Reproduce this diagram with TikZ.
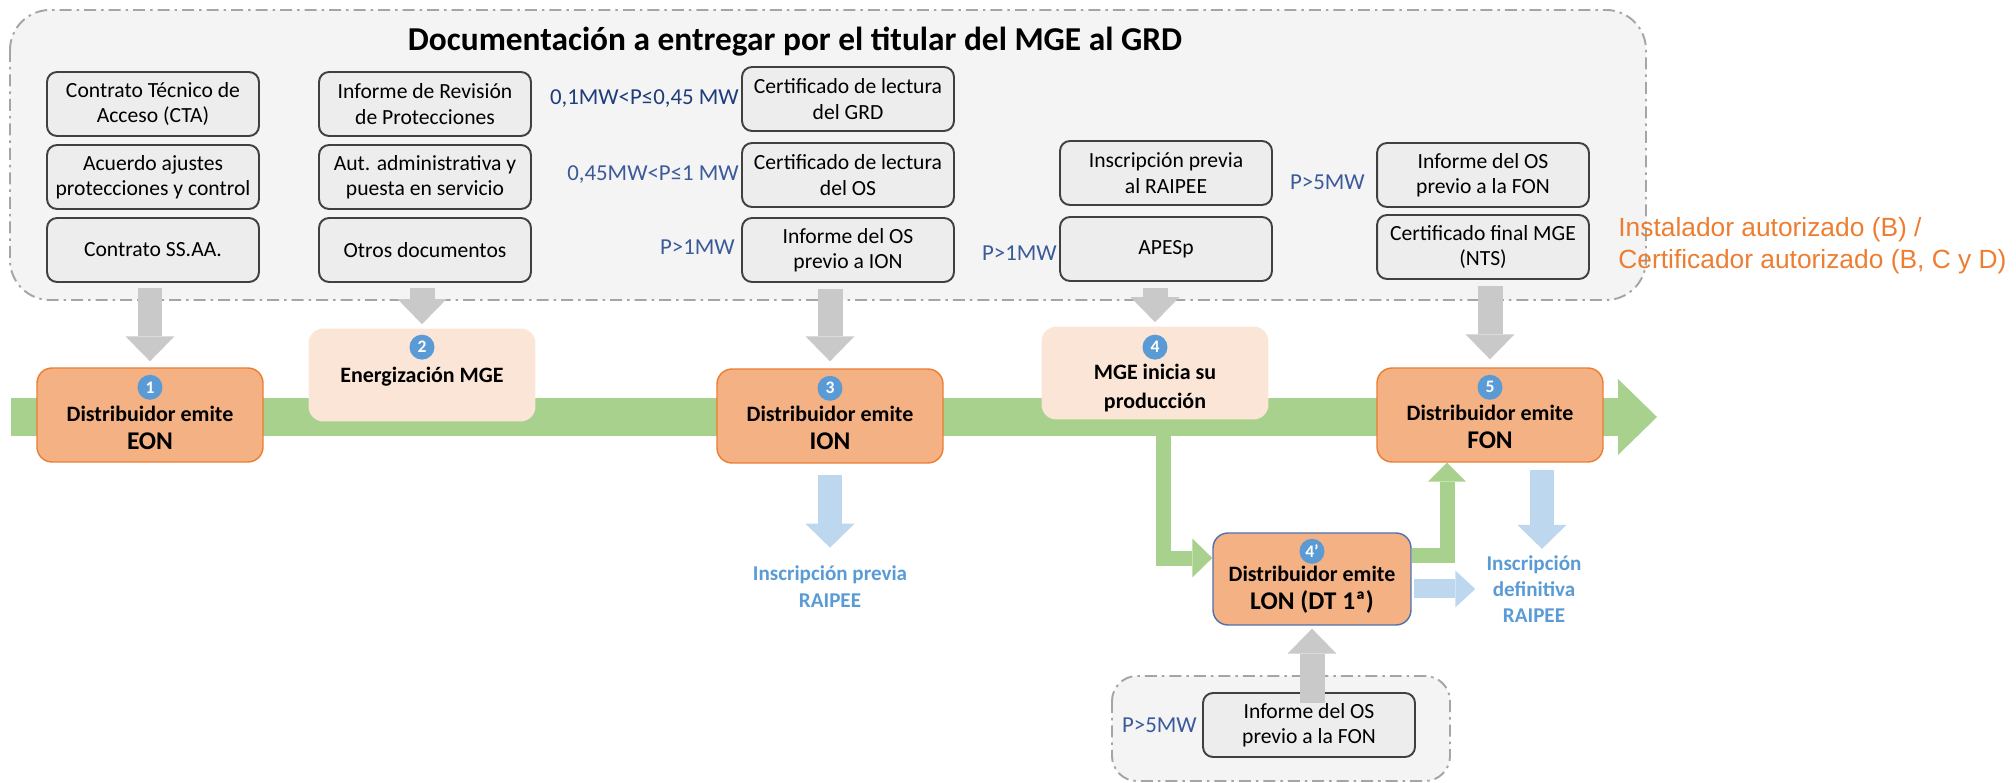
\documentclass[tikz,border=0pt]{standalone}
\usepackage{fontspec}
\setmainfont{Carlito}
\newfontfamily\instfont{Liberation Sans}
\usetikzlibrary{arrows.meta,positioning}

\definecolor{bandgreen}{HTML}{A9D18E}
\definecolor{arrgray}{HTML}{C9C9C9}
\definecolor{arrblue}{HTML}{BDD7EE}
\definecolor{stepfill}{HTML}{F4B183}
\definecolor{stepline}{HTML}{ED7D31}
\definecolor{lonline}{HTML}{4F6FAF}
\definecolor{peach}{HTML}{FBE5D6}
\definecolor{numblue}{HTML}{5B9BD5}
\definecolor{docfill}{HTML}{EDEDED}
\definecolor{docline}{HTML}{404040}
\definecolor{panelfill}{HTML}{F4F4F4}
\definecolor{panelline}{HTML}{A5A5A5}
\definecolor{pdark}{HTML}{1F3D7A}
\definecolor{plight}{HTML}{3B5A9A}
\definecolor{infoblue}{HTML}{5B9BD5}
\definecolor{instorange}{HTML}{ED7D31}

\tikzset{
  panel/.style={draw=panelline, fill=panelfill, line width=1.1pt,
    dash pattern=on 0.24cm off 0.1cm on 0.05cm off 0.1cm},
  docbox/.style={draw=docline, fill=docfill, rounded corners=0.2cm, line width=1.1pt,
    minimum width=4.24cm, minimum height=1.28cm, align=center, inner sep=1pt,
    font=\fontsize{12.3}{14.5}\selectfont},
  plabel/.style={text=plight, inner sep=0pt, font=\fontsize{13}{15}\selectfont},
  stepbox/.style={draw=stepline, fill=stepfill, rounded corners=0.3cm, line width=0.8pt,
    minimum width=4.52cm, minimum height=1.88cm},
  peachbox/.style={fill=peach, rounded corners=0.3cm, minimum width=4.54cm, minimum height=1.86cm},
  steptext/.style={align=center, inner sep=0pt, font=\bfseries\fontsize{12.5}{16}\selectfont},
  numdot/.style={circle, fill=numblue, text=white, inner sep=0pt, minimum size=0.5cm,
    font=\bfseries\fontsize{10}{12}\selectfont},
  bluetext/.style={align=center, inner sep=0pt, text=infoblue,
    font=\bfseries\fontsize{12}{15}\selectfont},
  grayarr/.style={draw=arrgray, line width=0.5cm,
    -{Triangle[width=0.98cm,length=0.5cm,line width=0pt]}},
  bluearr/.style={draw=arrblue, line width=0.48cm,
    -{Triangle[width=0.98cm,length=0.48cm,line width=0pt]}},
  greenarr/.style={draw=bandgreen, line width=0.3cm, line join=miter,
    -{Triangle[width=0.78cm,length=0.4cm,line width=0pt]}}
}

\begin{document}
\begin{tikzpicture}[x=0.02cm,y=-0.02cm]
    \useasboundingbox (0,0) rectangle (2016,783);

    % documentation panel
    \draw[panel, rounded corners=0.8cm] (10,10) rectangle (1646,300);
    \node[font=\bfseries\fontsize{19}{22}\selectfont] (title) at (795,42) {Documentación a entregar por el titular del MGE al GRD};

    \node[docbox] (cta) at (153,104) {Contrato Técnico de\\Acceso (CTA)};
    \node[docbox] (ajustes) at (153,177) {Acuerdo ajustes\\protecciones y control};
    \node[docbox] (ssaa) at (153,250) {Contrato SS.AA.};
    \node[docbox] (revprot) at (425,104) {Informe de Revisión\\de Protecciones};
    \node[docbox] (autadm) at (425,177) {Aut. administrativa y\\puesta en servicio};
    \node[docbox] (otros) at (425,250) {Otros documentos};
    \node[docbox] (lectgrd) at (848,99) {Certificado de lectura\\del GRD};
    \node[docbox] (lectos) at (848,175) {Certificado de lectura\\del OS};
    \node[docbox] (osion) at (848,250) {Informe del OS\\previo a ION};
    \node[docbox] (raipee) at (1166,173) {Inscripción previa\\al RAIPEE};
    \node[docbox] (apesp) at (1166,249) {APESp};
    \node[docbox] (osfon) at (1483,175) {Informe del OS\\previo a la FON};
    \node[docbox] (certmge) at (1483,247) {Certificado final MGE\\(NTS)};

    \node[plabel, text=pdark, left=0.04cm of lectgrd] (pgrd) {0,1MW<P≤0,45 MW};
    \node[plabel, left=0.04cm of lectos] (pos) {0,45MW<P≤1 MW};
    \node[plabel, left=0.12cm of osion, yshift=0.06cm] (pion) {P>1MW};
    \node[plabel, left=0.04cm of apesp, yshift=-0.08cm] (papesp) {P>1MW};
    \node[plabel, left=0.22cm of osfon, yshift=-0.14cm] (pfon) {P>5MW};

    \node[anchor=west, align=left, inner sep=0pt, text=instorange, font=\instfont\fontsize{15}{18}\selectfont] (instal) at (1618,246) {Instalador autorizado (B) /\\Certificador autorizado (B, C y D)};

    % time line
    \coordinate (bandstart) at (11,417);
    \coordinate (bandend) at (1657,417);
    \draw[draw=bandgreen, line width=0.78cm, -{Triangle[width=1.52cm,length=0.78cm,line width=0pt]}] (bandstart) -- (bandend);

    \node[stepbox] (eon) at (150,415) {};
    \node[peachbox] (energ) at (422,375) {};
    \node[stepbox] (ion) at (830,416) {};
    \node[peachbox] (mge) at (1155,373) {};
    \node[stepbox] (fon) at (1490,415) {};
    \node[stepbox, draw=lonline, minimum width=3.96cm, minimum height=1.84cm] (lon) at (1312,579) {};

    \node[numdot] (eonnum) at ([yshift=-0.4cm]eon.north) {1};
    \node[numdot] (energnum) at ([yshift=-0.38cm]energ.north) {2};
    \node[numdot] (ionnum) at ([yshift=-0.4cm]ion.north) {3};
    \node[numdot] (mgenum) at ([yshift=-0.42cm]mge.north) {4};
    \node[numdot] (fonnum) at ([yshift=-0.4cm]fon.north) {5};
    \node[numdot] (lonnum) at ([yshift=-0.38cm]lon.north) {4'};

    \node[steptext] (eontxt) at ([yshift=-0.26cm]eon.center) {Distribuidor emite\\{\fontsize{14.5}{16}\selectfont EON}};
    \node[steptext] (energtxt) at ([yshift=-0.04cm]energ.center) {Energización MGE};
    \node[steptext] (iontxt) at ([yshift=-0.24cm]ion.center) {Distribuidor emite\\{\fontsize{14.5}{16}\selectfont ION}};
    \node[steptext] (mgetxt) at ([yshift=-0.3cm]mge.center) {MGE inicia su\\producción};
    \node[steptext] (fontxt) at ([yshift=-0.24cm]fon.center) {Distribuidor emite\\{\fontsize{14.5}{16}\selectfont FON}};
    \node[steptext] (lontxt) at ([yshift=-0.22cm]lon.center) {Distribuidor emite\\{\fontsize{14.5}{16}\selectfont LON (DT 1ª)}};

    % branch through LON
    \coordinate (mgeout) at ([xshift=0.16cm]mge.south);
    \coordinate (lonin) at ([yshift=0.42cm]lon.west);
    \draw[greenarr] (mgeout) |- (lonin);
    \coordinate (lonout) at ([yshift=0.48cm]lon.east);
    \coordinate (fonin) at ([xshift=-0.86cm]fon.south);
    \draw[greenarr, -{Triangle[width=0.76cm,length=0.38cm,line width=0pt]}] (lonout) -| (fonin);

    % documents to steps
    \draw[grayarr, shorten <=0.1cm, shorten >=0.12cm] (eon.north |- ssaa.south) -- (eon.north);
    \draw[grayarr, shorten <=0.1cm, shorten >=0.08cm] (energ.north |- otros.south) -- (energ.north);
    \draw[grayarr, shorten <=0.12cm, shorten >=0.14cm] (ion.north |- osion.south) -- (ion.north);
    \draw[grayarr, shorten <=0.12cm, shorten >=0.08cm] (mge.north |- apesp.south) -- (mge.north);
    \draw[grayarr, shorten <=0.12cm, shorten >=0.16cm] (fon.north |- certmge.south) -- (fon.north);

    % RAIPEE
    \node[bluetext, below=2.04cm of ion] (ionrai) {Inscripción previa\\RAIPEE};
    \node[bluetext] (defrai) at (1534,589) {Inscripción\\definitiva\\RAIPEE};
    \draw[bluearr, shorten <=0.22cm, shorten >=0.36cm] (ion.south) -- (ion.south |- ionrai.north);
    \coordinate (fonblue) at ([xshift=1.04cm]fon.south);
    \draw[bluearr, shorten <=0.14cm, shorten >=0.12cm] (fonblue) -- (fonblue |- defrai.north);
    \coordinate (lonblue) at ([yshift=-0.2cm]lon.east);
    \draw[bluearr, line width=0.38cm, -{Triangle[width=0.74cm,length=0.4cm,line width=0pt]}, shorten <=0.04cm, shorten >=0.22cm] (lonblue) -- (lonblue -| defrai.west);

    % OS report before FON
    \draw[panel, rounded corners=0.5cm] (1112,676) rectangle (1450,781);
    \node[docbox] (osfon2) at (1309,725) {Informe del OS\\previo a la FON};
    \node[plabel, left=0.1cm of osfon2] (pfon2) {P>5MW};
    \draw[grayarr, shorten <=-0.22cm, shorten >=0.06cm] (lon.south |- osfon2.north) -- (lon.south);
\end{tikzpicture}
\end{document}
